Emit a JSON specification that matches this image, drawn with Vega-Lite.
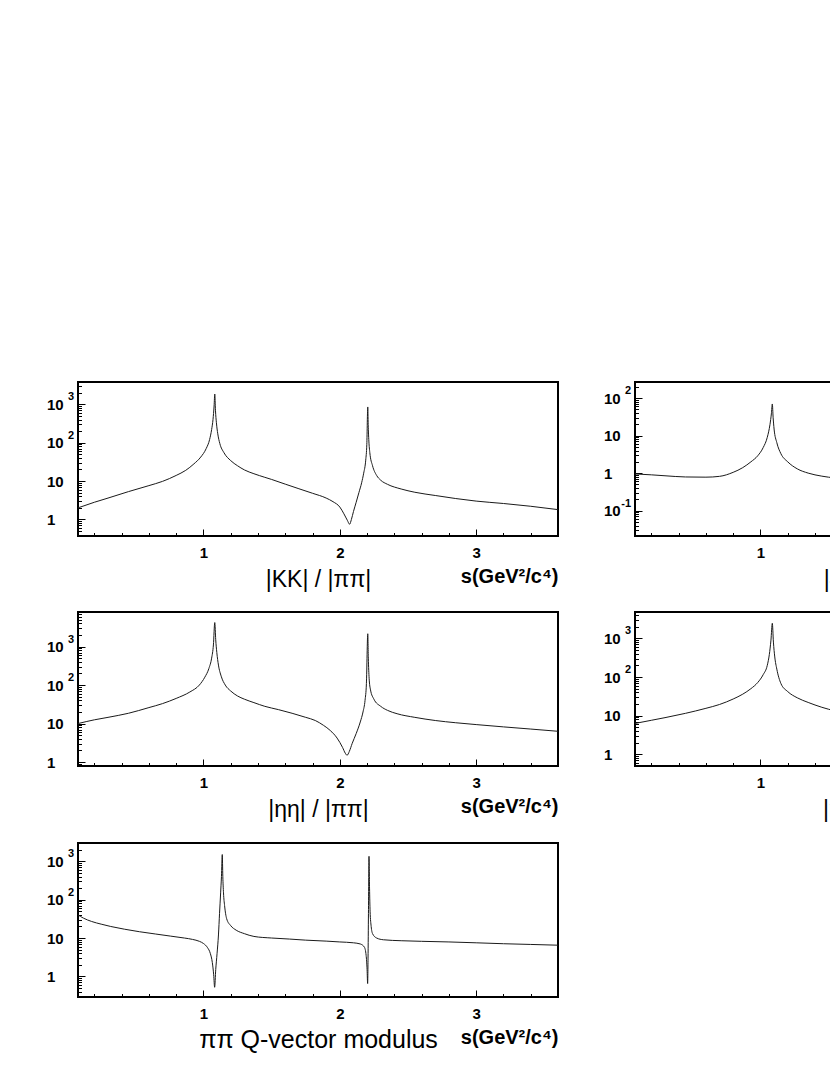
{
  "$schema": "https://vega.github.io/schema/vega-lite/v6.json",
  "padding": {"left": 45, "top": 381, "right": 5, "bottom": 5},
  "background": "white",
  "config": {
    "font": "Liberation Sans",
    "view": {"stroke": "black", "strokeWidth": 2},
    "line": {"interpolate": "monotone"},
    "axis": {"domain": false, "grid": false, "tickColor": "black", "tickWidth": 1, "labelColor": "black", "titleColor": "black", "labelFont": "Liberation Sans", "titleFont": "Liberation Sans", "labelOverlap": false, "labelFlush": false}
  },
  "datasets": {
    "kk": [
      {"s": 0.08, "v": 2.0}, {"s": 0.2, "v": 2.8}, {"s": 0.3, "v": 3.6}, {"s": 0.45, "v": 5.3}, {"s": 0.6, "v": 7.6}, {"s": 0.7, "v": 9.8}, {"s": 0.8, "v": 14}, {"s": 0.87, "v": 19}, {"s": 0.93, "v": 28}, {"s": 0.98, "v": 42}, {"s": 1.02, "v": 70}, {"s": 1.045, "v": 120}, {"s": 1.06, "v": 220}, {"s": 1.07, "v": 400}, {"s": 1.078, "v": 900}, {"s": 1.083, "v": 1850}, {"s": 1.088, "v": 700}, {"s": 1.095, "v": 330}, {"s": 1.105, "v": 170}, {"s": 1.12, "v": 95}, {"s": 1.15, "v": 55}, {"s": 1.2, "v": 34}, {"s": 1.25, "v": 25}, {"s": 1.3, "v": 19.5}, {"s": 1.37, "v": 15.5}, {"s": 1.45, "v": 12.5}, {"s": 1.5, "v": 11}, {"s": 1.6, "v": 8.3}, {"s": 1.7, "v": 6.3}, {"s": 1.8, "v": 4.8}, {"s": 1.9, "v": 3.6}, {"s": 1.95, "v": 2.9}, {"s": 2.0, "v": 2.1}, {"s": 2.03, "v": 1.4}, {"s": 2.055, "v": 0.95}, {"s": 2.072, "v": 0.75}, {"s": 2.085, "v": 1.0}, {"s": 2.1, "v": 1.6}, {"s": 2.12, "v": 2.8}, {"s": 2.14, "v": 5}, {"s": 2.16, "v": 9}, {"s": 2.175, "v": 16}, {"s": 2.19, "v": 35}, {"s": 2.198, "v": 90}, {"s": 2.205, "v": 850}, {"s": 2.208, "v": 300}, {"s": 2.213, "v": 110}, {"s": 2.22, "v": 55}, {"s": 2.24, "v": 25}, {"s": 2.27, "v": 14}, {"s": 2.3, "v": 10.5}, {"s": 2.35, "v": 8.2}, {"s": 2.45, "v": 6.2}, {"s": 2.55, "v": 5.1}, {"s": 2.7, "v": 4.2}, {"s": 2.85, "v": 3.5}, {"s": 3.0, "v": 3.0}, {"s": 3.2, "v": 2.6}, {"s": 3.4, "v": 2.2}, {"s": 3.6, "v": 1.8}
    ],
    "eta": [
      {"s": 0.08, "v": 10}, {"s": 0.2, "v": 12.5}, {"s": 0.3, "v": 14.5}, {"s": 0.45, "v": 18.5}, {"s": 0.6, "v": 26}, {"s": 0.7, "v": 33}, {"s": 0.8, "v": 45}, {"s": 0.9, "v": 66}, {"s": 0.97, "v": 100}, {"s": 1.01, "v": 160}, {"s": 1.04, "v": 270}, {"s": 1.06, "v": 500}, {"s": 1.073, "v": 1100}, {"s": 1.083, "v": 4200}, {"s": 1.09, "v": 1500}, {"s": 1.098, "v": 700}, {"s": 1.11, "v": 330}, {"s": 1.13, "v": 170}, {"s": 1.16, "v": 100}, {"s": 1.2, "v": 70}, {"s": 1.25, "v": 52}, {"s": 1.3, "v": 43}, {"s": 1.37, "v": 35}, {"s": 1.45, "v": 28}, {"s": 1.55, "v": 23}, {"s": 1.65, "v": 18.5}, {"s": 1.75, "v": 14.5}, {"s": 1.82, "v": 12}, {"s": 1.88, "v": 9}, {"s": 1.93, "v": 6.6}, {"s": 1.98, "v": 4.2}, {"s": 2.02, "v": 2.4}, {"s": 2.04, "v": 1.7}, {"s": 2.053, "v": 1.5}, {"s": 2.07, "v": 1.9}, {"s": 2.09, "v": 3.0}, {"s": 2.12, "v": 5.5}, {"s": 2.15, "v": 11}, {"s": 2.17, "v": 20}, {"s": 2.185, "v": 40}, {"s": 2.195, "v": 110}, {"s": 2.205, "v": 2150}, {"s": 2.209, "v": 500}, {"s": 2.215, "v": 150}, {"s": 2.225, "v": 75}, {"s": 2.25, "v": 43}, {"s": 2.3, "v": 28}, {"s": 2.35, "v": 22}, {"s": 2.42, "v": 18}, {"s": 2.55, "v": 14.5}, {"s": 2.7, "v": 12}, {"s": 2.85, "v": 10.5}, {"s": 3.0, "v": 9.4}, {"s": 3.2, "v": 8.2}, {"s": 3.4, "v": 7.2}, {"s": 3.6, "v": 6.3}
    ],
    "q": [
      {"s": 0.08, "v": 40}, {"s": 0.12, "v": 33}, {"s": 0.18, "v": 27}, {"s": 0.25, "v": 23}, {"s": 0.32, "v": 20}, {"s": 0.42, "v": 17}, {"s": 0.53, "v": 14.6}, {"s": 0.65, "v": 12.7}, {"s": 0.76, "v": 11.2}, {"s": 0.86, "v": 10}, {"s": 0.92, "v": 9.2}, {"s": 0.97, "v": 8.2}, {"s": 1.0, "v": 7.2}, {"s": 1.03, "v": 5.6}, {"s": 1.05, "v": 4.0}, {"s": 1.065, "v": 2.3}, {"s": 1.075, "v": 1.1}, {"s": 1.082, "v": 0.52}, {"s": 1.09, "v": 1.5}, {"s": 1.1, "v": 4}, {"s": 1.11, "v": 12}, {"s": 1.118, "v": 44}, {"s": 1.126, "v": 150}, {"s": 1.132, "v": 400}, {"s": 1.138, "v": 1500}, {"s": 1.142, "v": 400}, {"s": 1.147, "v": 150}, {"s": 1.155, "v": 70}, {"s": 1.17, "v": 32}, {"s": 1.2, "v": 21}, {"s": 1.24, "v": 16}, {"s": 1.3, "v": 13}, {"s": 1.37, "v": 11}, {"s": 1.5, "v": 10}, {"s": 1.63, "v": 9.4}, {"s": 1.75, "v": 8.8}, {"s": 1.9, "v": 8.3}, {"s": 2.0, "v": 7.9}, {"s": 2.1, "v": 7.5}, {"s": 2.15, "v": 7.0}, {"s": 2.18, "v": 5.8}, {"s": 2.193, "v": 3.5}, {"s": 2.2, "v": 1.5}, {"s": 2.204, "v": 0.65}, {"s": 2.207, "v": 3}, {"s": 2.21, "v": 44}, {"s": 2.214, "v": 1350}, {"s": 2.218, "v": 200}, {"s": 2.222, "v": 50}, {"s": 2.23, "v": 20}, {"s": 2.24, "v": 13}, {"s": 2.27, "v": 10}, {"s": 2.32, "v": 9}, {"s": 2.45, "v": 8.5}, {"s": 2.6, "v": 8.2}, {"s": 2.8, "v": 7.9}, {"s": 3.0, "v": 7.5}, {"s": 3.2, "v": 7.1}, {"s": 3.4, "v": 6.8}, {"s": 3.6, "v": 6.5}
    ],
    "fourpi": [
      {"s": 0.08, "v": 0.95}, {"s": 0.2, "v": 0.9}, {"s": 0.3, "v": 0.85}, {"s": 0.45, "v": 0.79}, {"s": 0.6, "v": 0.78}, {"s": 0.7, "v": 0.82}, {"s": 0.8, "v": 1.05}, {"s": 0.87, "v": 1.4}, {"s": 0.93, "v": 2.0}, {"s": 0.98, "v": 2.9}, {"s": 1.02, "v": 4.8}, {"s": 1.05, "v": 9}, {"s": 1.07, "v": 20}, {"s": 1.08, "v": 38}, {"s": 1.087, "v": 70}, {"s": 1.093, "v": 30}, {"s": 1.1, "v": 15}, {"s": 1.12, "v": 6.5}, {"s": 1.15, "v": 3.3}, {"s": 1.2, "v": 2.0}, {"s": 1.27, "v": 1.3}, {"s": 1.35, "v": 1.0}, {"s": 1.45, "v": 0.83}, {"s": 1.55, "v": 0.74}, {"s": 1.65, "v": 0.68}
    ],
    "etap": [
      {"s": 0.08, "v": 6.3}, {"s": 0.2, "v": 7.6}, {"s": 0.3, "v": 8.9}, {"s": 0.45, "v": 11.5}, {"s": 0.6, "v": 15.5}, {"s": 0.7, "v": 19.5}, {"s": 0.8, "v": 27}, {"s": 0.87, "v": 36}, {"s": 0.93, "v": 50}, {"s": 0.98, "v": 72}, {"s": 1.02, "v": 115}, {"s": 1.05, "v": 200}, {"s": 1.065, "v": 380}, {"s": 1.077, "v": 900}, {"s": 1.087, "v": 2450}, {"s": 1.095, "v": 800}, {"s": 1.105, "v": 330}, {"s": 1.12, "v": 160}, {"s": 1.15, "v": 68}, {"s": 1.2, "v": 42}, {"s": 1.27, "v": 29}, {"s": 1.35, "v": 22}, {"s": 1.45, "v": 16.5}, {"s": 1.55, "v": 13.2}, {"s": 1.65, "v": 11}
    ]
  },
  "hconcat": [
    {
      "spacing": 19,
      "vconcat": [
        {
          "width": 480, "height": 154,
          "data": {"name": "kk"},
          "layer": [
            {"mark": {"type": "line", "color": "#1a1a1a", "strokeWidth": 1, "clip": true},
             "encoding": {
               "x": {"field": "s", "type": "quantitative", "scale": {"domain": [0.08, 3.6], "nice": false, "zero": false},
                     "axis": {"orient": "bottom", "values": [1, 2, 3], "tickSize": -7, "labelPadding": 16, "labelFontWeight": "bold", "labelFontSize": 15, "title": "s(GeV²/c⁴)", "titleFontWeight": "bold", "titleFontSize": 20, "titleAnchor": "end", "titleBaseline": "alphabetic", "titleY": 46}},
               "y": {"field": "v", "type": "quantitative", "scale": {"type": "log", "domain": [0.37, 3800], "nice": false},
                     "axis": {"orient": "left", "values": [1, 10, 100, 1000], "tickSize": -7, "labelPadding": 38.5, "labelAlign": "left", "labelFontWeight": "bold", "labelFontSize": 15, "labelExpr": "datum.value == 1 ? '\u20071' : '10'", "title": null}}
             }},
            {"mark": {"type": "line", "opacity": 0},
             "encoding": {
               "x": {"field": "s", "type": "quantitative", "axis": {"orient": "bottom", "values": [0.2, 0.4, 0.6, 0.8, 1.2, 1.4, 1.6, 1.8, 2.2, 2.4, 2.6, 2.8, 3.2, 3.4], "tickSize": -3.5, "labels": false, "title": "|KK| / |ππ|", "titleFontSize": 23, "titleFontWeight": "normal", "titleAnchor": "middle", "titleBaseline": "alphabetic", "titleY": 50}},
               "y": {"field": "v", "type": "quantitative", "axis": {"orient": "left", "values": [0.4, 0.5, 0.6, 0.7, 0.8, 0.9, 2, 3, 4, 5, 6, 7, 8, 9, 20, 30, 40, 50, 60, 70, 80, 90, 200, 300, 400, 500, 600, 700, 800, 900, 2000, 3000], "tickSize": -3.5, "labels": false, "title": null}}
             }},
            {"mark": {"type": "line", "opacity": 0},
             "encoding": {
               "x": {"field": "s", "type": "quantitative", "axis": null},
               "y": {"field": "v", "type": "quantitative", "axis": {"orient": "left", "values": [100, 1000], "ticks": false, "labelPadding": 4.5, "labelAlign": "right", "labelOffset": -7.5, "labelFontSize": 11, "labelFontWeight": "bold", "labelExpr": "datum.value == 100 ? '2' : datum.value == 1000 ? '3' : '-1'", "title": null}}
             }}
          ],
          "resolve": {"axis": {"x": "independent", "y": "independent"}}
        },
        {
          "width": 480, "height": 154,
          "data": {"name": "eta"},
          "layer": [
            {"mark": {"type": "line", "color": "#1a1a1a", "strokeWidth": 1, "clip": true},
             "encoding": {
               "x": {"field": "s", "type": "quantitative", "scale": {"domain": [0.08, 3.6], "nice": false, "zero": false},
                     "axis": {"orient": "bottom", "values": [1, 2, 3], "tickSize": -7, "labelPadding": 16, "labelFontWeight": "bold", "labelFontSize": 15, "title": "s(GeV²/c⁴)", "titleFontWeight": "bold", "titleFontSize": 20, "titleAnchor": "end", "titleBaseline": "alphabetic", "titleY": 46}},
               "y": {"field": "v", "type": "quantitative", "scale": {"type": "log", "domain": [0.79, 7900], "nice": false},
                     "axis": {"orient": "left", "values": [1, 10, 100, 1000], "tickSize": -7, "labelPadding": 38.5, "labelAlign": "left", "labelFontWeight": "bold", "labelFontSize": 15, "labelExpr": "datum.value == 1 ? '\u20071' : '10'", "title": null}}
             }},
            {"mark": {"type": "line", "opacity": 0},
             "encoding": {
               "x": {"field": "s", "type": "quantitative", "axis": {"orient": "bottom", "values": [0.2, 0.4, 0.6, 0.8, 1.2, 1.4, 1.6, 1.8, 2.2, 2.4, 2.6, 2.8, 3.2, 3.4], "tickSize": -3.5, "labels": false, "title": "|ηη| / |ππ|", "titleFontSize": 23, "titleFontWeight": "normal", "titleAnchor": "middle", "titleBaseline": "alphabetic", "titleY": 50}},
               "y": {"field": "v", "type": "quantitative", "axis": {"orient": "left", "values": [0.8, 0.9, 2, 3, 4, 5, 6, 7, 8, 9, 20, 30, 40, 50, 60, 70, 80, 90, 200, 300, 400, 500, 600, 700, 800, 900, 2000, 3000, 4000, 5000, 6000, 7000], "tickSize": -3.5, "labels": false, "title": null}}
             }},
            {"mark": {"type": "line", "opacity": 0},
             "encoding": {
               "x": {"field": "s", "type": "quantitative", "axis": null},
               "y": {"field": "v", "type": "quantitative", "axis": {"orient": "left", "values": [100, 1000], "ticks": false, "labelPadding": 4.5, "labelAlign": "right", "labelOffset": -7.5, "labelFontSize": 11, "labelFontWeight": "bold", "labelExpr": "datum.value == 100 ? '2' : datum.value == 1000 ? '3' : '-1'", "title": null}}
             }}
          ],
          "resolve": {"axis": {"x": "independent", "y": "independent"}}
        },
        {
          "width": 480, "height": 154,
          "data": {"name": "q"},
          "layer": [
            {"mark": {"type": "line", "color": "#1a1a1a", "strokeWidth": 1, "clip": true},
             "encoding": {
               "x": {"field": "s", "type": "quantitative", "scale": {"domain": [0.08, 3.6], "nice": false, "zero": false},
                     "axis": {"orient": "bottom", "values": [1, 2, 3], "tickSize": -7, "labelPadding": 16, "labelFontWeight": "bold", "labelFontSize": 15, "title": "s(GeV²/c⁴)", "titleFontWeight": "bold", "titleFontSize": 20, "titleAnchor": "end", "titleBaseline": "alphabetic", "titleY": 46}},
               "y": {"field": "v", "type": "quantitative", "scale": {"type": "log", "domain": [0.29, 3000], "nice": false},
                     "axis": {"orient": "left", "values": [1, 10, 100, 1000], "tickSize": -7, "labelPadding": 38.5, "labelAlign": "left", "labelFontWeight": "bold", "labelFontSize": 15, "labelExpr": "datum.value == 1 ? '\u20071' : '10'", "title": null}}
             }},
            {"mark": {"type": "line", "opacity": 0},
             "encoding": {
               "x": {"field": "s", "type": "quantitative", "axis": {"orient": "bottom", "values": [0.2, 0.4, 0.6, 0.8, 1.2, 1.4, 1.6, 1.8, 2.2, 2.4, 2.6, 2.8, 3.2, 3.4], "tickSize": -3.5, "labels": false, "title": "ππ Q-vector modulus", "titleFontSize": 25, "titleFontWeight": "normal", "titleAnchor": "middle", "titleBaseline": "alphabetic", "titleY": 50}},
               "y": {"field": "v", "type": "quantitative", "axis": {"orient": "left", "values": [0.3, 0.4, 0.5, 0.6, 0.7, 0.8, 0.9, 2, 3, 4, 5, 6, 7, 8, 9, 20, 30, 40, 50, 60, 70, 80, 90, 200, 300, 400, 500, 600, 700, 800, 900, 2000, 3000], "tickSize": -3.5, "labels": false, "title": null}}
             }},
            {"mark": {"type": "line", "opacity": 0},
             "encoding": {
               "x": {"field": "s", "type": "quantitative", "axis": null},
               "y": {"field": "v", "type": "quantitative", "axis": {"orient": "left", "values": [100, 1000], "ticks": false, "labelPadding": 4.5, "labelAlign": "right", "labelOffset": -7.5, "labelFontSize": 11, "labelFontWeight": "bold", "labelExpr": "datum.value == 100 ? '2' : datum.value == 1000 ? '3' : '-1'", "title": null}}
             }}
          ],
          "resolve": {"axis": {"x": "independent", "y": "independent"}}
        }
      ]
    },
    {
      "spacing": 19,
      "vconcat": [
        {
          "width": 480, "height": 154,
          "data": {"name": "fourpi"},
          "layer": [
            {"mark": {"type": "line", "color": "#1a1a1a", "strokeWidth": 1, "clip": true},
             "encoding": {
               "x": {"field": "s", "type": "quantitative", "scale": {"domain": [0.08, 3.6], "nice": false, "zero": false},
                     "axis": {"orient": "bottom", "values": [1, 2, 3], "tickSize": -7, "labelPadding": 16, "labelFontWeight": "bold", "labelFontSize": 15, "title": "s(GeV²/c⁴)", "titleFontWeight": "bold", "titleFontSize": 20, "titleAnchor": "end", "titleBaseline": "alphabetic", "titleY": 46}},
               "y": {"field": "v", "type": "quantitative", "scale": {"type": "log", "domain": [0.021, 270], "nice": false},
                     "axis": {"orient": "left", "values": [0.1, 1, 10, 100], "tickSize": -7, "labelPadding": 38.5, "labelAlign": "left", "labelFontWeight": "bold", "labelFontSize": 15, "labelExpr": "datum.value == 1 ? '\u20071' : '10'", "title": null}}
             }},
            {"mark": {"type": "line", "opacity": 0},
             "encoding": {
               "x": {"field": "s", "type": "quantitative", "axis": {"orient": "bottom", "values": [0.2, 0.4, 0.6, 0.8, 1.2, 1.4, 1.6, 1.8, 2.2, 2.4, 2.6, 2.8, 3.2, 3.4], "tickSize": -3.5, "labels": false, "title": "|4π| / |ππ|", "titleFontSize": 23, "titleFontWeight": "normal", "titleAnchor": "middle", "titleBaseline": "alphabetic", "titleY": 50}},
               "y": {"field": "v", "type": "quantitative", "axis": {"orient": "left", "values": [0.03, 0.04, 0.05, 0.06, 0.07, 0.08, 0.09, 0.2, 0.3, 0.4, 0.5, 0.6, 0.7, 0.8, 0.9, 2, 3, 4, 5, 6, 7, 8, 9, 20, 30, 40, 50, 60, 70, 80, 90, 200], "tickSize": -3.5, "labels": false, "title": null}}
             }},
            {"mark": {"type": "line", "opacity": 0},
             "encoding": {
               "x": {"field": "s", "type": "quantitative", "axis": null},
               "y": {"field": "v", "type": "quantitative", "axis": {"orient": "left", "values": [0.1, 100], "ticks": false, "labelPadding": 4.5, "labelAlign": "right", "labelOffset": -7.5, "labelFontSize": 11, "labelFontWeight": "bold", "labelExpr": "datum.value == 100 ? '2' : datum.value == 1000 ? '3' : '-1'", "title": null}}
             }}
          ],
          "resolve": {"axis": {"x": "independent", "y": "independent"}}
        },
        {
          "width": 480, "height": 154,
          "data": {"name": "etap"},
          "layer": [
            {"mark": {"type": "line", "color": "#1a1a1a", "strokeWidth": 1, "clip": true},
             "encoding": {
               "x": {"field": "s", "type": "quantitative", "scale": {"domain": [0.08, 3.6], "nice": false, "zero": false},
                     "axis": {"orient": "bottom", "values": [1, 2, 3], "tickSize": -7, "labelPadding": 16, "labelFontWeight": "bold", "labelFontSize": 15, "title": "s(GeV²/c⁴)", "titleFontWeight": "bold", "titleFontSize": 20, "titleAnchor": "end", "titleBaseline": "alphabetic", "titleY": 46}},
               "y": {"field": "v", "type": "quantitative", "scale": {"type": "log", "domain": [0.5, 4800], "nice": false},
                     "axis": {"orient": "left", "values": [1, 10, 100, 1000], "tickSize": -7, "labelPadding": 38.5, "labelAlign": "left", "labelFontWeight": "bold", "labelFontSize": 15, "labelExpr": "datum.value == 1 ? '\u20071' : '10'", "title": null}}
             }},
            {"mark": {"type": "line", "opacity": 0},
             "encoding": {
               "x": {"field": "s", "type": "quantitative", "axis": {"orient": "bottom", "values": [0.2, 0.4, 0.6, 0.8, 1.2, 1.4, 1.6, 1.8, 2.2, 2.4, 2.6, 2.8, 3.2, 3.4], "tickSize": -3.5, "labels": false, "title": "|ηη'| / |ππ|", "titleFontSize": 23, "titleFontWeight": "normal", "titleAnchor": "middle", "titleBaseline": "alphabetic", "titleY": 50}},
               "y": {"field": "v", "type": "quantitative", "axis": {"orient": "left", "values": [0.6, 0.7, 0.8, 0.9, 2, 3, 4, 5, 6, 7, 8, 9, 20, 30, 40, 50, 60, 70, 80, 90, 200, 300, 400, 500, 600, 700, 800, 900, 2000, 3000, 4000], "tickSize": -3.5, "labels": false, "title": null}}
             }},
            {"mark": {"type": "line", "opacity": 0},
             "encoding": {
               "x": {"field": "s", "type": "quantitative", "axis": null},
               "y": {"field": "v", "type": "quantitative", "axis": {"orient": "left", "values": [100, 1000], "ticks": false, "labelPadding": 4.5, "labelAlign": "right", "labelOffset": -7.5, "labelFontSize": 11, "labelFontWeight": "bold", "labelExpr": "datum.value == 100 ? '2' : datum.value == 1000 ? '3' : '-1'", "title": null}}
             }}
          ],
          "resolve": {"axis": {"x": "independent", "y": "independent"}}
        }
      ]
    }
  ],
  "spacing": 43
}
